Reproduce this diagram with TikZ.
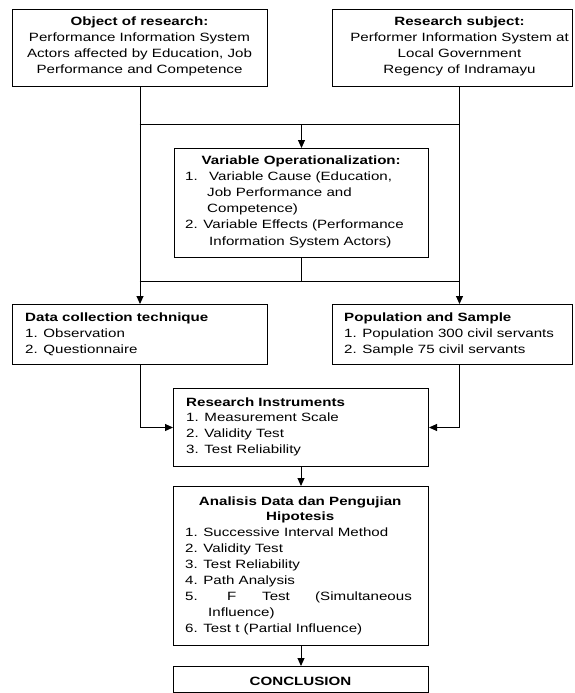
\documentclass[tikz,border=0pt]{standalone}
\usepackage{fontspec}
\setmainfont{Liberation Sans}[FakeStretch=1.26]
\usetikzlibrary{arrows.meta}
\tikzset{
  boxshape/.style={draw, line width=1pt, inner sep=0pt, anchor=north west},
  txt/.style={inner sep=0pt, anchor=base west, font=\fontsize{12}{16}\selectfont},
  link/.style={line width=1pt},
  arr/.style={link, -{Triangle[length=8pt,width=7pt]}},
}
\begin{document}
\begin{tikzpicture}[x=1pt,y=-1pt]
\useasboundingbox (0,0) rectangle (574,693);
\clip (0,0) rectangle (574,693);
\fill[white] (0,0) rectangle (574,693);

% boxes
\node[boxshape, minimum width=255pt, minimum height=77pt] (obj) at (12,9) {};
\node[boxshape, minimum width=240pt, minimum height=77pt] (subj) at (332,9) {};
\node[boxshape, minimum width=254pt, minimum height=109pt] (var) at (174,148) {};
\node[boxshape, minimum width=255pt, minimum height=60pt] (data) at (12,304) {};
\node[boxshape, minimum width=240pt, minimum height=60pt] (pop) at (332,304) {};
\node[boxshape, minimum width=255pt, minimum height=78pt] (inst) at (173,388) {};
\node[boxshape, minimum width=255pt, minimum height=159pt] (anal) at (173,486) {};
\node[boxshape, minimum width=255pt, minimum height=25.5pt] (concl) at (173,666) {};

% texts
\node[txt, anchor=base] (objtxt) at (139.5,25.5) {\parbox[t]{250pt}{\centering
  \textbf{Object of research:}\\
  Performance Information System\\
  Actors affected by Education, Job\\
  Performance and Competence}};
\node[txt, anchor=base] (subjtxt) at (459.5,25.5) {\parbox[t]{250pt}{\centering
  \textbf{Research subject:}\\
  Performer Information System at\\
  Local Government\\
  Regency of Indramayu}};
\node[txt, font=\fontsize{12}{16.2}\selectfont] (vartxt) at (185,164) {\parbox[t]{232pt}{\raggedright
  \makebox[232pt]{\textbf{Variable Operationalization:}}\\
  \makebox[24pt][l]{1.}Variable Cause (Education,\\
  \hspace*{22pt}Job Performance and\\
  \hspace*{22pt}Competence)\\
  2. Variable Effects (Performance\\
  \hspace*{24pt}Information System Actors)}};
\node[txt] (datatxt) at (25,321) {\parbox[t]{235pt}{\raggedright
  \textbf{Data collection technique}\\
  1. Observation\\
  2. Questionnaire}};
\node[txt] (poptxt) at (344,321) {\parbox[t]{225pt}{\raggedright
  \textbf{Population and Sample}\\
  1. Population 300 civil servants\\
  2. Sample 75 civil servants}};
\node[txt, font=\fontsize{12}{15.8}\selectfont] (insttxt) at (186,406) {\parbox[t]{235pt}{\raggedright
  \textbf{Research Instruments}\\
  1. Measurement Scale\\
  2. Validity Test\\
  3. Test Reliability}};
\node[txt, font=\fontsize{12}{15.9}\selectfont] (analtxt) at (185,505) {\parbox[t]{230pt}{\raggedright
  \makebox[230pt]{\textbf{Analisis Data dan Pengujian}}\\
  \makebox[230pt]{\textbf{Hipotesis}}\\
  1. Successive Interval Method\\
  2. Validity Test\\
  3. Test Reliability\\
  4. Path Analysis\\
  \makebox[42pt][l]{5.}\makebox[35pt][l]{F}\makebox[53pt][l]{Test}(Simultaneous\\
  \hspace*{23pt}Influence)\\
  6. Test t (Partial Influence)}};
\node[txt, anchor=base] (concltxt) at (300.5,685) {\textbf{CONCLUSION}};

% connectors
\coordinate (j1) at (139.5,124);
\coordinate (j2) at (459.5,124);
\coordinate (j3) at (139.5,281);
\coordinate (j4) at (459.5,281);
\draw[arr] (obj.south) -- (data.north);
\draw[arr] (j2 |- subj.south) -- (j2 |- pop.north);
\draw[link] (j1) -- (j2);
\draw[arr] (var.north |- j1) -- (var.north);
\draw[link] (var.south) -- (var.south |- j3);
\draw[link] (j3) -- (j4);
\draw[arr] (data.south) |- (inst.west);
\draw[arr] (j4 |- pop.south) |- (inst.east);
\draw[arr] (inst.south) -- (anal.north);
\draw[arr] (anal.south) -- (concl.north);
\end{tikzpicture}
\end{document}
